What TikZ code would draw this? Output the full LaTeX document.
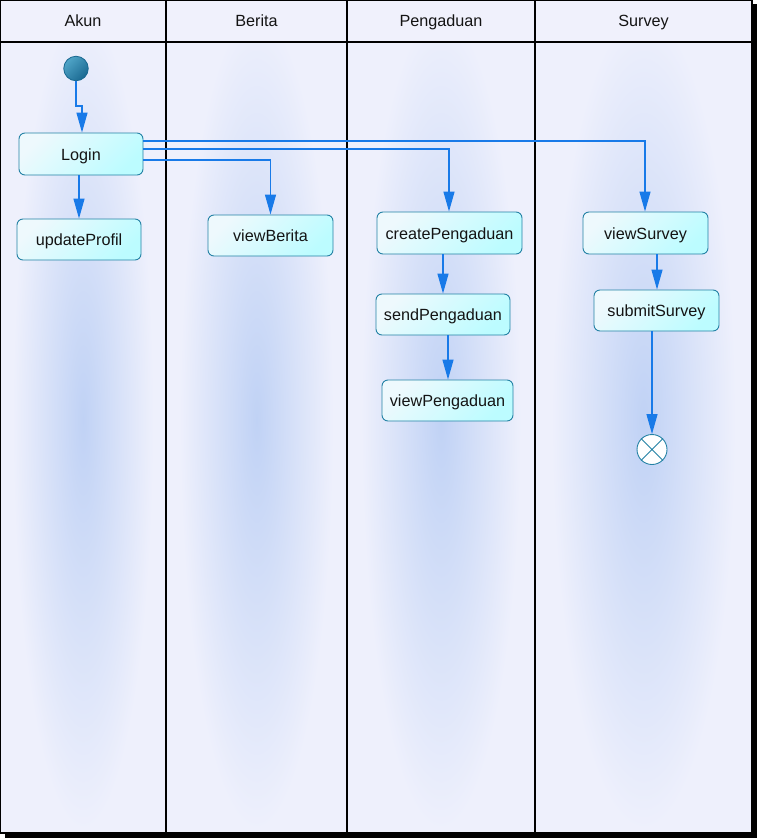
\documentclass[tikz,border=0pt]{standalone}
\usepackage{fontspec}
\setmainfont{Liberation Sans}
\usetikzlibrary{arrows.meta,calc}
\definecolor{lanebase}{RGB}{238,240,252}
\definecolor{glow}{RGB}{192,210,245}
\definecolor{headfill}{RGB}{240,241,252}
\definecolor{flow}{RGB}{24,122,232}
\definecolor{nodeline}{RGB}{36,130,165}
\definecolor{nodeA}{RGB}{238,249,253}
\definecolor{nodeB}{RGB}{188,252,255}
\definecolor{initA}{RGB}{80,165,200}
\definecolor{initB}{RGB}{26,105,145}
\definecolor{txt}{RGB}{20,20,20}
\begin{document}
\begin{tikzpicture}[x=1pt,y=-1pt,
  lbl/.style={font=\fontsize{16.2}{19}\selectfont, text=txt, inner sep=0pt, anchor=base},
  action/.style={draw=nodeline, line width=0.9pt, rounded corners=6pt,
    top color=nodeA, bottom color=nodeB, shading angle=45,
    minimum height=41pt, inner sep=0pt, text height=12pt, text depth=0pt,
    font=\fontsize{16.2}{19}\selectfont, text=txt},
  flowline/.style={draw=flow, line width=1.2pt, -{Triangle[length=20pt,width=11pt,fill=flow]}},
  lanebar/.style={draw=black, line width=1.3pt}]
\useasboundingbox (0,0) rectangle (757,838);
% shadow
\fill[black] (5,4) rectangle (757,838);
% lane bodies
\fill[lanebase] (0,0) rectangle (752,833);
\foreach \a/\b in {0/166,166/347,347/535,535/752}{
  \begin{scope}
    \clip (\a,42) rectangle (\b,833);
    \shade[inner color=glow, outer color=lanebase] ({(\a+\b)/2},420) ellipse ({0.85*(\b-\a)/2} and 410);
  \end{scope}
}
\fill[headfill] (0,0) rectangle (752,42);
% frame and lanes
\draw[lanebar] (0.65,0.65) rectangle (752,833);
\draw[lanebar] (0,42) -- (752,42);
\foreach \x in {166,347,535}{\draw[lanebar] (\x,0) -- (\x,833);}
% headers
\node[lbl] (hA) at (83,26) {Akun};
\node[lbl] (hB) at (256.5,26) {Berita};
\node[lbl] (hP) at (441,26) {Pengaduan};
\node[lbl] (hS) at (643.5,26) {Survey};
% nodes
\node[circle, draw=initB, line width=0.8pt, top color=initA, bottom color=initB, shading angle=45,
  minimum size=24.5pt, inner sep=0pt] (init) at (76,68.5) {};
\node[action, minimum width=124pt, minimum height=42pt] (login) at (81,154) {Login};
\node[action, minimum width=124pt] (upd) at (79,239.5) {updateProfil};
\node[action, minimum width=125pt] (vb) at (270.5,235.5) {viewBerita};
\node[action, minimum width=145pt, minimum height=42pt] (cp) at (449.5,233) {createPengaduan};
\node[action, minimum width=134pt] (sp) at (443,314.5) {sendPengaduan};
\node[action, minimum width=131pt] (vp) at (447.5,400.5) {viewPengaduan};
\node[action, minimum width=125pt, minimum height=42pt] (vs) at (645.5,233) {viewSurvey};
\node[action, minimum width=125pt] (ss) at (656.5,310.5) {submitSurvey};
\node[circle, draw=nodeline, line width=0.9pt, fill=white, minimum size=30pt, inner sep=0pt] (fin) at (652,449.5) {};
\draw[nodeline, line width=0.9pt] (fin.north east) -- (fin.south west) (fin.north west) -- (fin.south east);
% connector guide coordinates
\coordinate (b1) at (82,106);
\coordinate (xs) at (645,0);
\coordinate (xc) at (449,0);
\coordinate (xq) at (443,0);
\coordinate (xp) at (448,0);
\coordinate (xv) at (657,0);
% connectors
\draw[flowline] (init.south) |- (b1) -- (b1 |- login.north);
\draw[flowline] (login.south -| upd.north) -- (upd.north);
\draw[flowline] ([yshift=13pt]login.east) -| (xs |- vs.north);
\draw[flowline] ([yshift=5pt]login.east) -| (xc |- cp.north);
\draw[flowline] ([yshift=-6pt]login.east) -| (vb.north);
\draw[flowline] (xq |- cp.south) -- (xq |- sp.north);
\draw[flowline] (xp |- sp.south) -- (xp |- vp.north);
\draw[flowline] (xv |- vs.south) -- (xv |- ss.north);
\draw[flowline] (ss.south -| fin.north) -- (fin.north);
\end{tikzpicture}
\end{document}
